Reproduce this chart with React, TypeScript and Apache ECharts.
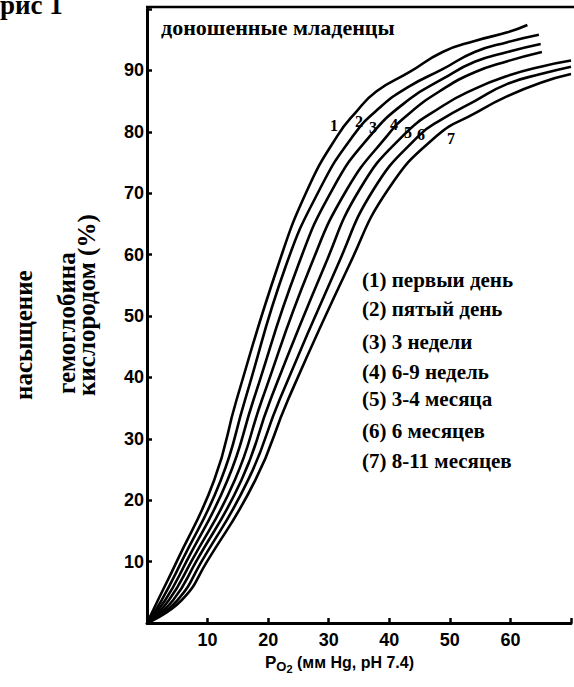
import React, { useEffect, useRef } from "react";
import * as echarts from "echarts";

// ---- data ----
const xTicks = [10, 20, 30, 40, 50, 60];
const yTicks = [10, 20, 30, 40, 50, 60, 70, 80, 90];

const curve1 = [[0, 0], [1.8, 3.7], [4.9, 10], [11.1, 23.3], [14.8, 36.4], [21.6, 58.1], [26.5, 70.6], [31.4, 79.3], [34.5, 83.2], [37.9, 86.6], [43.3, 89.7], [48.8, 93.0], [54.1, 94.8], [59.5, 96.2], [62.8, 97.4]];
const curve2 = [[0, 0], [2.4, 3.7], [5.7, 10], [12.2, 23.3], [16.2, 36.4], [22.9, 58.1], [28.5, 70.6], [34.0, 79.3], [38.5, 84.0], [43.3, 87.4], [48.8, 90.2], [54.1, 93.0], [59.5, 94.6], [64.7, 95.8]];
const curve3 = [[0, 0], [3.0, 3.7], [6.5, 10], [13.3, 23.3], [17.6, 36.4], [24.9, 58.1], [30.6, 70.6], [36.8, 79.3], [43.3, 85.3], [48.8, 88.6], [54.1, 91.4], [59.5, 93.0], [65.0, 94.3]];
const curve4 = [[0, 0], [3.6, 3.7], [7.3, 10], [14.5, 23.3], [19.0, 36.4], [27.0, 58.1], [33.0, 70.6], [39.6, 79.3], [43.3, 83.0], [48.8, 86.9], [54.1, 89.7], [59.5, 91.5], [65.2, 93.0]];
const curve5 = [[0, 0], [4.3, 3.7], [8.1, 10], [15.6, 23.3], [20.4, 36.4], [29.3, 58.1], [35.1, 70.6], [42.2, 79.3], [48.8, 84.2], [54.1, 87.0], [59.5, 89.1], [65.0, 90.6], [70, 91.6]];
const curve6 = [[0, 0], [5.0, 3.7], [9.0, 10], [16.7, 23.3], [21.9, 36.4], [31.4, 58.1], [37.4, 70.6], [44.8, 79.3], [48.8, 82.1], [54.1, 85.0], [59.5, 87.8], [65.0, 89.4], [70, 90.6]];
const curve7 = [[0, 0], [5.7, 3.7], [9.9, 10], [17.9, 23.3], [23.3, 36.4], [33.3, 58.1], [39.8, 70.6], [47.8, 79.3], [54.1, 83.0], [59.5, 85.8], [65.0, 88.0], [70, 89.4]];
const curves = [curve1, curve2, curve3, curve4, curve5, curve6, curve7];

const curveNumbers = ["1", "2", "3", "4", "5", "6", "7"];
const legendLabels = [
  "(1) первыи день",
  "(2) пятый день",
  "(3) 3 недели",
  "(4) 6-9 недель",
  "(5) 3-4 месяца",
  "(6) 6 месяцев",
  "(7) 8-11 месяцев",
];
const chartTitle = "доношенные младенцы";
const figureLabel = "рис 1";
const yTitleLines = ["насыщение", "гемоглобина", "кислородом (%)"];
const xTitleRest = " (мм Hg, pH 7.4)";

// ---- layout ----
const W = 574;
const H = 687;
const numPos = [[334, 125], [359, 121], [373, 127], [394, 124], [408, 132], [421, 134], [451, 138]];
const legendY = [280, 309, 342, 372, 399, 431, 461];
const yTitlePos = [[23, 400], [66, 394], [86, 396]];

const SERIF = "'Liberation Serif', 'DejaVu Serif', serif";
const SANS = "'Liberation Sans', Arial, sans-serif";

export default function App() {
  const ref = useRef<HTMLDivElement>(null);
  useEffect(() => {
    if (!ref.current) return;
    const chart = echarts.init(ref.current, null, { renderer: "svg" });
    const axisCommon = {
      type: "value",
      interval: 10,
      splitLine: { show: false },
      axisLine: { show: true, lineStyle: { color: "#000", width: 3 } },
      axisTick: { show: true, inside: true, length: 5, lineStyle: { color: "#000", width: 2.5 } },
    };
    const graphics: any[] = [];
    graphics.push({
      type: "line",
      shape: { x1: 146, y1: 7, x2: 574, y2: 7 },
      style: { stroke: "#000", lineWidth: 2.5 },
    });
    graphics.push({
      type: "text",
      x: 0,
      y: 18,
      style: { text: figureLabel, font: `bold 27px ${SERIF}`, fill: "#000", textAlign: "left", textVerticalAlign: "bottom" },
    });
    graphics.push({
      type: "text",
      x: 161,
      y: 27,
      style: { text: chartTitle, font: `bold 22px ${SERIF}`, fill: "#000", textAlign: "left", textVerticalAlign: "middle" },
    });
    legendLabels.forEach((t, i) => {
      graphics.push({
        type: "text",
        x: 362,
        y: legendY[i],
        style: { text: t, font: `bold 21px ${SERIF}`, fill: "#000", textAlign: "left", textVerticalAlign: "middle" },
      });
    });
    curveNumbers.forEach((t, i) => {
      graphics.push({
        type: "text",
        x: numPos[i][0],
        y: numPos[i][1],
        style: { text: t, font: `bold 16px ${SERIF}`, fill: "#000", textAlign: "center", textVerticalAlign: "middle" },
      });
    });
    yTitleLines.forEach((t, i) => {
      graphics.push({
        type: "text",
        x: yTitlePos[i][0],
        y: yTitlePos[i][1],
        rotation: Math.PI / 2,
        style: { text: t, font: `bold 25px ${SERIF}`, fill: "#000", textAlign: "left", textVerticalAlign: "middle" },
      });
    });
    graphics.push({
      type: "text",
      x: 265,
      y: 662,
      style: {
        text: "{p|P}{o|O}{two|2}{r|" + xTitleRest + "}",
        fill: "#000",
        textAlign: "left",
        textVerticalAlign: "middle",
        rich: {
          p: { font: `bold 17px ${SANS}`, fill: "#000" },
          o: { font: `bold 13px ${SANS}`, fill: "#000", padding: [8, 0, 0, 0] },
          two: { font: `bold 11px ${SANS}`, fill: "#000", padding: [14, 0, 0, 0] },
          r: { font: `bold 16px ${SANS}`, fill: "#000" },
        },
      },
    });

    chart.setOption({
      animation: false,
      backgroundColor: "#fff",
      grid: { left: 147, top: 9, right: -3, bottom: 64, containLabel: false },
      xAxis: {
        ...axisCommon,
        min: 0,
        max: 70,
        axisLabel: {
          color: "#000",
          fontFamily: SANS,
          fontWeight: "bold",
          fontSize: 18,
          margin: 8,
          formatter: (v: number) => (xTicks.includes(v) ? String(v) : ""),
        },
      },
      yAxis: {
        ...axisCommon,
        min: 0,
        max: 100,
        axisLabel: {
          color: "#000",
          fontFamily: SANS,
          fontWeight: "bold",
          fontSize: 18,
          margin: 3,
          formatter: (v: number) => (yTicks.includes(v) ? String(v) : ""),
        },
      },
      series: curves.map((c, i) => ({
        type: "line",
        name: legendLabels[i],
        data: c,
        smooth: 0.5,
        symbol: "none",
        clip: false,
        lineStyle: { color: "#000", width: 2.6 },
      })),
      graphic: graphics,
    });
    return () => chart.dispose();
  }, []);
  return <div ref={ref} style={{ position: "absolute", left: 0, top: 0, width: W, height: H }} />;
}
